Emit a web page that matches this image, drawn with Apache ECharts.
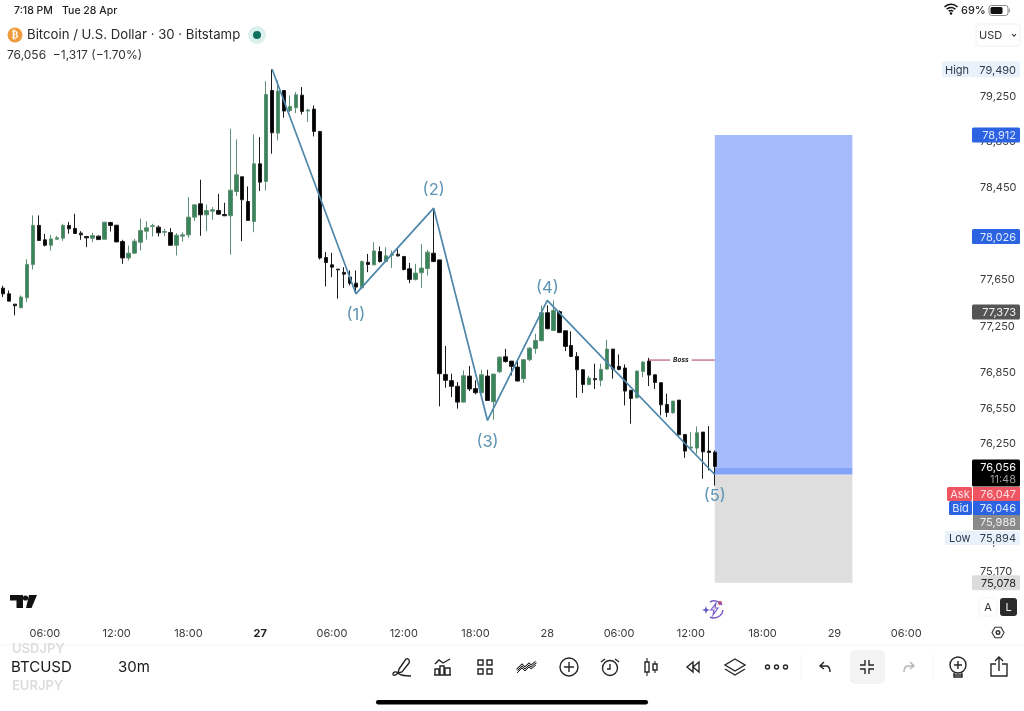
<!DOCTYPE html>
<html>
<head>
<meta charset="utf-8">
<title>BTCUSD 30m</title>
<style>
html, body { margin: 0; padding: 0; background: #fff; }
#main { width: 1024px; height: 711px; }
</style>
<script src="https://cdn.jsdelivr.net/npm/echarts@6/dist/echarts.min.js"></script>
</head>
<body>
<div id="main"></div>
<script>
// [open, close, low, high], one candle every 30 minutes from 26 Apr 02:30
const candles = [
  [77579,77530,77502,77600],[77530,77467,77467,77559],[77441,77427,77344,77441],[77410,77502,77407,77516],
  [77496,77783,77459,77829],[77783,78122,77740,78209],[78122,77991,77991,78209],[77997,77950,77939,78049],
  [77950,78005,77904,78040],[78002,78014,77999,78031],[78011,78122,77988,78136],[78122,78093,78049,78153],
  [78096,78052,78049,78223],[78055,78040,77997,78072],[78026,78014,77933,78026],[78011,78034,77976,78057],
  [78029,77999,77997,78034],[78002,78150,77999,78153],[78147,78122,78069,78153],[78124,77979,77976,78124],
  [77982,77840,77789,77997],[77840,77881,77818,77947],[77881,77985,77875,78005],[77976,78078,77904,78182],
  [78072,78101,77999,78159],[78113,78119,78026,78136],[78107,78058,78026,78122],[78063,78069,78029,78093],
  [78060,77950,77947,78098],[77950,78037,77861,78055],[78029,78040,77982,78063],[78040,78194,78014,78368],
  [78194,78301,78159,78304],[78310,78214,78032,78520],[78214,78252,78072,78304],[78246,78258,78171,78281],
  [78252,78220,78217,78397],[78217,78206,78203,78319],[78206,78429,77869,78966],[78417,78563,78377,78873],
  [78546,78345,77985,78546],[78330,78165,78165,78461],[78156,78659,78063,78917],[78659,78499,78421,78893],
  [78505,79268,78426,79385],[79303,78931,78747,79490],[78928,79298,78864,79391],[79303,79122,79063,79303],
  [79127,79163,79113,79259],[79151,79265,79104,79289],[79262,79119,79092,79333],[79122,79131,79025,79142],
  [79139,78943,78899,79172],[78943,77840,77826,78943],[77843,77800,77594,77890],[77780,77760,77674,77884],
  [77743,77737,77488,77743],[77715,77700,77580,77760],[77674,77622,77602,77732],[77622,77588,77530,77732],
  [77582,77809,77576,77818],[77803,77783,77717,77875],[77780,77901,77777,77977],[77895,77809,77800,77939],
  [77809,77858,77806,77933],[77864,77875,77754,77904],[77872,77858,77852,77916],[77852,77740,77732,77858],
  [77746,77654,77622,77797],[77654,77709,77645,77789],[77712,77752,77582,77959],[77749,77890,77688,77910],
  [77881,77809,77803,78272],[77823,76844,76566,77823],[76838,76788,76725,77081],[76785,76737,76645,76844],
  [76737,76602,76546,76773],[76602,76827,76599,76873],[76824,76714,76696,76910],[76717,76682,76668,76788],
  [76682,76835,76677,76878],[76824,76616,76613,76878],[76605,76841,76452,76844],[76861,76986,76850,76992],
  [76989,76949,76938,77057],[76952,76907,76830,76952],[76901,76782,76779,76964],[76802,76964,76765,76969],
  [76964,77063,76952,77072],[77060,77129,77015,77187],[77126,77367,77123,77430],[77367,77230,77224,77430],
  [77215,77387,77210,77473],[77376,77198,77192,77387],[77212,77078,77038,77212],[77086,76992,76986,77207],
  [76992,76878,76639,77029],[76878,76753,76679,76884],[76753,76807,76745,76827],[76802,76793,76714,76930],
  [76788,76881,76737,76930],[76884,77055,76878,77135],[77055,76884,76802,77055],[76907,76881,76873,77009],
  [76893,76696,76574,76924],[76702,76633,76418,76708],[76639,76867,76633,76873],[76864,76944,76816,76952],
  [76952,76833,76739,76980],[76835,76770,76714,76835],[76768,76579,76489,76768],[76582,76514,76475,76674],
  [76511,76611,76503,76611],[76619,76325,76319,76619],[76327,76186,76129,76327],[76211,76220,76208,76347],
  [76211,76341,76163,76395],[76347,76180,75952,76347],[76186,76174,76022,76398],[76177,76056,75894,76191]
];

const barCount = 162;
const xTickIndex = [7, 19, 31, 43, 55, 67, 79, 91, 103, 115, 127, 139, 151];
const xTickText = ['06:00', '12:00', '18:00', '27', '06:00', '12:00', '18:00', '28', '06:00', '12:00', '18:00', '29', '06:00'];
const yTicks = [79250, 78850, 78450, 78050, 77650, 77250, 76850, 76550, 76250, 75420, 75170];

// elliott wave pivots
const waveIndex = [45, 59, 72, 81, 91, 119];
const wavePrice = [79490, 77530, 78272, 76446, 77473, 75988];
const waveText = ['', '(1)', '(2)', '(3)', '(4)', '(5)'];

// position tool: start bar, end bar, top price, bottom price
const profitBox = [119, 142, 78912, 76047];
const entryBox = [119, 142, 76047, 75988];
const stopBox = [119, 142, 75988, 75078];

const bossBars = [108, 113, 119];
const bossPrice = 76961;

const tagPrices = [79490, 78912, 78026, 77373, 76056, 75078];
const tagTexts = ['79,490', '78,912', '78,026', '77,373', '76,056', '75,078'];

const UP = '#38855a';
const DOWN = '#000';
const UP_WICK = '#5f8f75';
const DOWN_WICK = '#1c1c1c';
const FONT = 'Inter, "Noto Sans", sans-serif';
const WAVE = '#4d87aa';

function fmt(v) {
  return String(v).replace(/\B(?=(\d{3})+$)/g, ',');
}

const chart = echarts.init(document.getElementById('main'));

function boxSeries(box, color) {
  return {
    type: 'custom',
    silent: true,
    z: 1,
    data: [box],
    encode: { x: [0, 1], y: [2, 3] },
    renderItem: function (params, api) {
      const a = api.coord([api.value(0), api.value(2)]);
      const b = api.coord([api.value(1), api.value(3)]);
      return {
        type: 'rect',
        shape: { x: a[0], y: a[1], width: b[0] - a[0], height: b[1] - a[1] },
        style: { fill: color }
      };
    }
  };
}

// how each price tag on the right looks, same order as tagPrices
const tagStyle = [
  { bg: '#e9f2fb', fg: '#2b3a4c', left: 942, top: -8, h: 16, label: 'High' },
  { bg: '#2c63e3', fg: '#dfe9ff', left: 972, top: -7.5, h: 15 },
  { bg: '#2c63e3', fg: '#dfe9ff', left: 972, top: -7.5, h: 15 },
  { bg: '#555555', fg: '#f2f2f2', left: 972, top: -7.5, h: 15 },
  { bg: '#000000', fg: '#ffffff', left: 972, top: -7, h: 27, sub: '11:48' },
  { bg: '#dcdcdc', fg: '#222222', left: 972, top: -7.5, h: 15 }
];

function tagText(str, x, y, fill, align) {
  return {
    type: 'text',
    style: { text: str, x: x, y: y, fill: fill, font: '11px ' + FONT, align: align, verticalAlign: 'middle' }
  };
}

const tagSeries = {
  type: 'custom',
  silent: true,
  z: 20,
  data: tagPrices.map(function (p) { return [0, p]; }),
  encode: { x: 0, y: 1 },
  renderItem: function (params, api) {
    const y = api.coord([0, api.value(1)])[1];
    const s = tagStyle[params.dataIndex];
    const kids = [{
      type: 'rect',
      shape: { x: s.left, y: y + s.top, width: 1020 - s.left, height: s.h, r: 1.5 },
      style: { fill: s.bg }
    }, tagText(tagTexts[params.dataIndex], 1016, y + 1, s.fg, 'right')];
    if (s.label) kids.push(tagText(s.label, 945, y + 1, s.fg, 'left'));
    if (s.sub) kids.push(tagText(s.sub, 1016, y + 13, '#9a9a9a', 'right'));
    return { type: 'group', children: kids };
  }
};

// chrome helpers
function txt(x, y, str, size, fill, extra) {
  return {
    type: 'text', x: x, y: y + 1, silent: true, z: 30,
    style: Object.assign({ text: str, font: size + 'px ' + FONT, fill: fill, align: 'left', verticalAlign: 'middle' }, extra || {})
  };
}
function box(x, y, w, h, r, fill, stroke) {
  return {
    type: 'rect', silent: true, z: 29,
    shape: { x: x, y: y, width: w, height: h, r: r },
    style: { fill: fill, stroke: stroke || 'none', lineWidth: 1 }
  };
}
function dot(x, y, r, fill, stroke) {
  return {
    type: 'circle', silent: true, z: 30,
    shape: { cx: x, cy: y, r: r },
    style: { fill: fill, stroke: stroke || 'none', lineWidth: 1.4 }
  };
}
// svg-ish icons only work through a custom series, collected here
const icons = [];
function ico(x, y, d, stroke, fill, lw) {
  icons.push({
    type: 'path', x: x, y: y,
    shape: { pathData: d },
    style: { fill: fill || 'none', stroke: stroke || 'none', lineWidth: lw || 1.4 }
  });
}

const INK = '#262626';
const ICON_Y = 667;

ico(951, 10, 'M-6.5 -3 A9 9 0 0 1 6.5 -3 M-4.3 -0.7 A6 6 0 0 1 4.3 -0.7 M-2.2 1.4 A3 3 0 0 1 2.2 1.4', '#111', null, 1.6);
ico(1014, 35, 'M-2 -1 L0 1.2 L2 -1', '#333', null, 1.1);
ico(998, 632.5, 'M-3 -5.2 L3 -5.2 L6 0 L3 5.2 L-3 5.2 L-6 0 Z', '#333', null, 1.1);
// tv logo
ico(10, 595, 'M0 0 L13 0 L13 13 L6.5 13 L6.5 5.5 L0 5.5 Z', null, '#111');
ico(10, 595, 'M19 0 L27 0 L21.5 13 L16 13 Z', null, '#111');
// fast icon
ico(714, 609, 'M-4 -7 A9 9 0 0 1 8 -4 M9 1 A9 9 0 0 1 -4 8', '#7c5ec9', null, 1.5);
ico(714, 609, 'M2 -6 L-3 1 L0 1 L-1 6 L4 -1 L1 -1 Z', '#7c5ec9', null, 1.2);
ico(706, 610, 'M0 -4 L1 -1 L4 0 L1 1 L0 4 L-1 1 L-4 0 L-1 -1 Z', null, '#5f56c6');
// pen
ico(402, ICON_Y, 'M-3 2 L4 -8 Q6 -9 7 -7 Q8 -6 7 -4 L0 5 L-4 6 Z', INK);
ico(402, ICON_Y, 'M-4 6 C-7 9 -9 9 -9 7 C-9 5 -6 4 -4 6 C-1 9 3 9 9 9', INK);
// indicators
ico(443, ICON_Y, 'M-8 8 L-8 2 L-4 2 L-4 8 Z M-3 8 L-3 -1 L1 -1 L1 8 Z M2 8 L2 1 L7 1 L7 8 Z M-9 8 L8 8', INK);
ico(443, ICON_Y, 'M-8 -3 L-4 -7 L0 -4 L7 -8', INK);
// layouts
ico(485, ICON_Y, 'M-7 -7 h5 v5 h-5 Z M2 -7 h5 v5 h-5 Z M-7 2 h5 v5 h-5 Z M2 2 h5 v5 h-5 Z', INK);
// compare
ico(527, ICON_Y, 'M-10 3 L-5 -2 L-2 1 L2 -3 L4 -1 L9 -5', INK, null, 2.6);
ico(527, ICON_Y, 'M-10 3 L-5 -2 L-2 1 L2 -3 L4 -1 L9 -5', '#fff', null, 0.8);
ico(527, ICON_Y + 3, 'M-10 3 L-5 -2 L-2 1 L2 -3 L4 -1 L9 -5', INK, null, 1);
// add
ico(569, ICON_Y, 'M-5 0 L5 0 M0 -5 L0 5', INK);
// alarm
ico(610, ICON_Y + 1, 'M0 -4 L0 1 L-3 1', INK);
ico(610, ICON_Y, 'M-9 -5 L-5 -8 M9 -5 L5 -8', INK);
// candles
ico(651, ICON_Y, 'M-4 -9 L-4 9 M4 -6 L4 6', INK, null, 1.1);
ico(651, ICON_Y, 'M-6 -5 h4 v10 h-4 Z M2 -3 h4 v6 h-4 Z', INK, '#fff');
// replay
ico(693, ICON_Y, 'M0 -5 L-6 0 L0 5 Z M6 -5 L0 0 L6 5 Z', INK);
// layers
ico(735, ICON_Y, 'M0 -8 L10 -2 L0 4 L-10 -2 Z M-10 2 L0 8 L10 2', INK);
// undo / collapse / redo
ico(825, ICON_Y, 'M-1 -5 L-5 -1 L-1 2 M-5 -1 L2 -1 Q5 0 5 5', INK);
ico(867, ICON_Y, 'M-7 -2 L-2 -2 L-2 -7 M7 -2 L2 -2 L2 -7 M-7 2 L-2 2 L-2 7 M7 2 L2 2 L2 7', INK);
ico(909, ICON_Y, 'M1 -5 L5 -1 L1 2 M5 -1 L-2 -1 Q-5 0 -5 5', '#b5b5b5');
// ideas
ico(958, ICON_Y - 2, 'M-4 0 L4 0 M0 -4 L0 4', INK);
ico(958, ICON_Y, 'M-4 6 L-4 10 L4 10 L4 6 M-4 8 L4 8', INK);
// share
ico(999, ICON_Y, 'M-3 -3 L-8 -3 L-8 9 L8 9 L8 -3 L3 -3 M0 4 L0 -10 M-4 -6 L0 -10 L4 -6', INK);

const iconSeries = {
  type: 'custom',
  coordinateSystem: 'none',
  silent: true,
  z: 40,
  data: [0],
  renderItem: function () {
    return { type: 'group', children: icons };
  }
};

const chrome = [
  // status bar
  txt(14, 10, '7:18 PM', 10.5, '#222', { font: '500 10.5px ' + FONT }),
  txt(62, 10, 'Tue 28 Apr', 10.5, '#222', { font: '500 10.5px ' + FONT }),
  dot(951, 13.5, 1.3, '#111'),
  txt(961, 10, '69%', 11, '#222', { font: '500 11px ' + FONT }),
  box(989, 5.5, 19, 10, 2.5, 'none', '#888'),
  box(990.5, 7, 12, 7, 1.5, '#111'),
  box(1008.8, 8.5, 1, 4, 0.5, '#888'),

  // title row
  dot(15, 35, 7.5, '#ef9a3c'),
  txt(15, 34.5, '₿', 10, '#fff', { align: 'center', font: 'bold 10px "DejaVu Sans"' }),
  txt(27, 34.5, 'Bitcoin / U.S. Dollar · 30 · Bitstamp', 13.2, '#2a2a2a'),
  dot(257, 35, 9, '#dbf0ec'),
  dot(257, 35, 4, '#0e6f60'),
  txt(7, 54.5, '76,056  −1,317 (−1.70%)', 12, '#333'),

  // currency selector
  box(976, 24, 44, 22, 3, '#fff', '#f0f0f0'),
  txt(979, 34.5, 'USD', 11, '#333'),

  // stacked quote tags
  box(947, 487, 25, 14, 1.5, '#ef5561'),
  txt(960, 493.5, 'Ask', 11, '#ffe3e5', { align: 'center' }),
  box(973, 487, 47, 14, 0, '#ef5561'),
  txt(1016, 493.5, '76,047', 11, '#ffdfe2', { align: 'right' }),
  box(949, 501, 23, 14, 1.5, '#2c63e3'),
  txt(960.5, 507.5, 'Bid', 11, '#e0e9ff', { align: 'center' }),
  box(973, 501, 47, 14, 0, '#2c63e3'),
  txt(1016, 507.5, '76,046', 11, '#e0e9ff', { align: 'right' }),
  box(973, 515, 47, 15, 0, '#8a8a8a'),
  txt(1016, 522, '75,988', 11, '#f0f0f0', { align: 'right' }),
  box(945, 531, 75, 14, 1.5, '#e9f2fb'),
  txt(949, 537.5, 'Low', 11, '#2b3a4c'),
  txt(1016, 537.5, '75,894', 11, '#2b3a4c', { align: 'right' }),

  // A / L buttons and settings
  box(979, 598, 18, 18, 2, '#fff', '#f2f2f2'),
  txt(988, 607, 'A', 11, '#333', { align: 'center' }),
  box(1000, 598, 17, 18, 3, '#2b2b2b'),
  txt(1008.5, 607, 'L', 11, '#f0f0f0', { align: 'center' }),
  dot(998, 632.5, 1.8, 'none', '#333'),

  dot(25.5, 598, 2.6, '#111'),
  dot(720, 603, 2, '#d9434f'),

  // bottom bar
  { type: 'line', silent: true, z: 29, shape: { x1: 0, y1: 645, x2: 1024, y2: 645 }, style: { stroke: '#f3f3f3', lineWidth: 1 } },
  txt(12, 648, 'USDJPY', 13, '#dddddd', { font: '600 13px ' + FONT }),
  txt(11, 666.5, 'BTCUSD', 15, '#181818'),
  txt(118, 666.5, '30m', 15, '#181818'),
  txt(12, 685.5, 'EURJPY', 13, '#dddddd', { font: '600 13px ' + FONT }),

  dot(569, ICON_Y, 9, 'none', INK),
  dot(610, ICON_Y + 1, 7.5, 'none', INK),
  dot(767.5, ICON_Y, 2, 'none', INK), dot(776.5, ICON_Y, 2, 'none', INK), dot(785.5, ICON_Y, 2, 'none', INK),
  { type: 'line', silent: true, z: 29, shape: { x1: 801, y1: 655, x2: 801, y2: 680 }, style: { stroke: '#f4f4f4', lineWidth: 1 } },
  box(850, 650, 35, 34, 5, '#f3f3f3'),
  { type: 'line', silent: true, z: 29, shape: { x1: 933, y1: 655, x2: 933, y2: 680 }, style: { stroke: '#f4f4f4', lineWidth: 1 } },
  dot(958, ICON_Y - 2, 8, 'none', INK),

  // home indicator
  box(376, 700, 272, 4.5, 2.2, '#000')
];

const option = {
  animation: false,
  backgroundColor: '#ffffff',
  textStyle: { fontFamily: FONT },
  grid: { left: 0, top: 60.5, width: 969, height: 560 },
  xAxis: {
    type: 'category',
    data: Array.from({ length: barCount }, function (_, i) { return i; }),
    axisLine: { show: false },
    axisTick: { show: false },
    splitLine: { show: false },
    axisLabel: {
      interval: function (i) { return xTickIndex.indexOf(i) >= 0; },
      margin: 8,
      hideOverlap: false,
      fontSize: 11,
      color: '#3a3a3a',
      formatter: function (v, i) {
        const t = xTickText[xTickIndex.indexOf(i)];
        return t === '27' ? '{b|27}' : t;
      },
      rich: { b: { fontWeight: 'bold', fontSize: 11, color: '#222' } }
    }
  },
  yAxis: {
    type: 'log',
    logBase: 10,
    position: 'right',
    min: 74764,
    max: 79568,
    axisLine: { show: false },
    axisTick: { show: false },
    splitLine: { show: false },
    minorSplitLine: { show: false },
    axisLabel: {
      customValues: yTicks,
      margin: 11,
      fontSize: 11,
      color: '#3a3a3a',
      padding: [1, 0, 0, 0],
      formatter: function (v) { return fmt(Math.round(v)); }
    }
  },
  series: [
    boxSeries(profitBox, '#a5bbfc'),
    boxSeries(stopBox, '#dedede'),
    boxSeries(entryBox, '#84a2f8'),
    {
      type: 'candlestick',
      silent: true,
      z: 5,
      barWidth: 4,
      data: candles,
      itemStyle: { color: UP, borderColor: UP_WICK, color0: DOWN, borderColor0: DOWN_WICK, borderWidth: 1 }
    },
    {
      type: 'line',
      silent: true,
      z: 8,
      data: waveIndex.map(function (x, i) { return [x, wavePrice[i]]; }),
      showSymbol: true,
      showAllSymbol: true,
      symbol: 'circle',
      symbolSize: 0,
      lineStyle: { color: WAVE, width: 1.7 },
      itemStyle: { color: WAVE },
      label: {
        show: true,
        position: 'bottom',
        distance: 13,
        fontSize: 16.5,
        color: '#5d93b3',
        formatter: function (p) { return waveText[p.dataIndex]; }
      },
      labelLayout: function (p) {
        if (p.dataIndex === 2) return { dy: -40 };
        if (p.dataIndex === 4) return { dy: -34 };
        return {};
      },
      clip: false
    },
    {
      type: 'line',
      silent: true,
      z: 7,
      data: bossBars.map(function (x, i) {
        return {
          value: [x, bossPrice],
          label: i === 1 ? {
            show: true,
            position: 'inside',
            fontSize: 6.5,
            fontStyle: 'italic',
            fontWeight: 'bold',
            color: '#222',
            backgroundColor: '#fff',
            padding: [1, 3],
            offset: [2, 0],
            formatter: 'Boss'
          } : { show: false }
        };
      }),
      showAllSymbol: true,
      symbol: 'circle',
      symbolSize: 0,
      lineStyle: { color: '#b03a58', width: 1 }
    },
    tagSeries,
    iconSeries
  ],
  graphic: { elements: chrome }
};

chart.setOption(option);
</script>
</body>
</html>
